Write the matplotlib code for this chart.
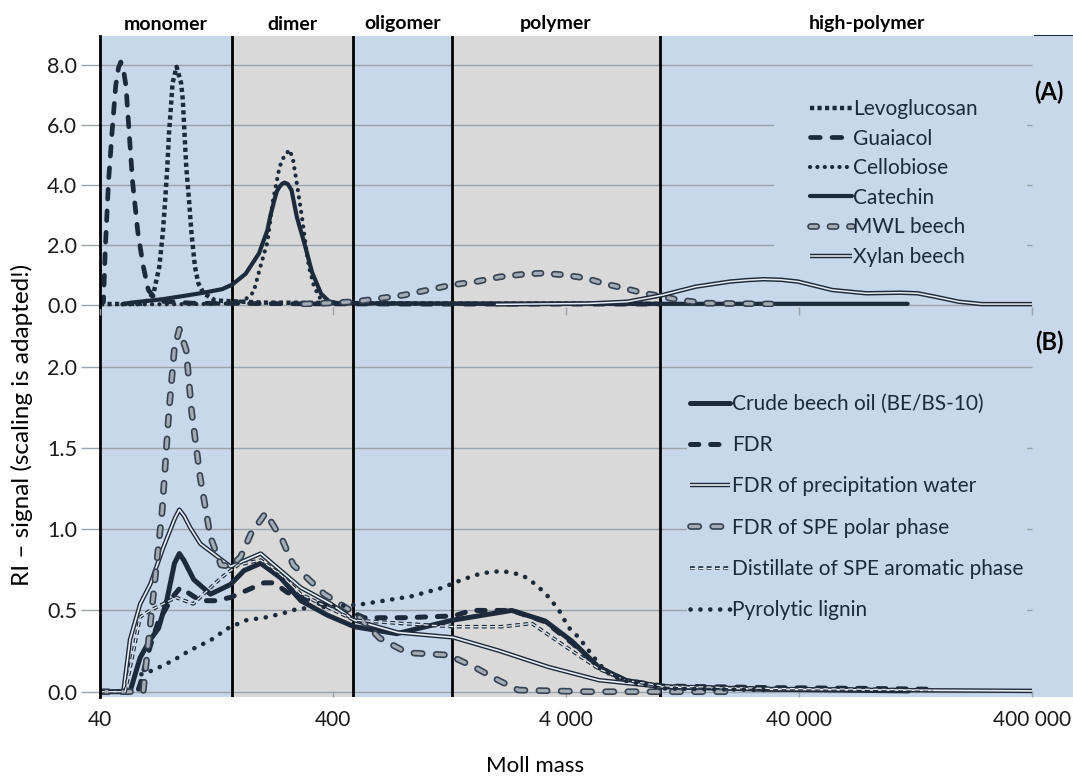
import matplotlib
matplotlib.use('Agg')
import matplotlib.pyplot as plt
from matplotlib.lines import Line2D
from matplotlib.patches import Rectangle
from matplotlib.ticker import FuncFormatter, NullLocator
from matplotlib.legend_handler import HandlerTuple
import matplotlib.transforms as mtransforms

plt.rcParams['font.family'] = ['Lato', 'DejaVu Sans']
plt.rcParams['lines.scale_dashes'] = False

# ---------------- data (molar mass, RI signal) ----------------
# Panel (A) reference substances
levo_m = [40, 60, 64, 67.9, 71.9, 74.4, 76.2, 77.8, 79.1, 81.0, 81.9, 85.3, 89.2, 90.7, 92.2, 93.8,
          96.4, 98.8, 102.2, 105.7, 111.3, 125, 200, 1000, 10000]
levo_v = [0.03, 0.04, 0.15, 0.39, 1.28, 2.39, 3.5, 4.61, 5.72, 6.83, 7.39, 7.94, 7.39, 6.83, 5.72, 4.61,
          3.5, 2.39, 1.28, 0.72, 0.39, 0.15, 0.08, 0.05, 0.04]

guai_m = [40, 41.4, 42.1, 43.5, 45.0, 46.7, 48.0, 49.1, 50.3, 51.7, 53.4, 55.2, 58.2, 61.3, 64.5, 68, 75,
          100, 300, 1000, 10000]
guai_v = [0.0, 0.1, 1.8, 4.1, 5.7, 7.3, 7.9, 8.1, 7.9, 7.3, 5.7, 4.1, 2.4, 1.3, 0.5, 0.28, 0.12,
          0.06, 0.04, 0.03, 0.03]

cello_m = [50, 100, 150, 167.5, 182.5, 195.5, 209.3, 220.1, 235.8, 248, 261.2, 270, 279.7, 294.2, 304.6,
           315.0, 331.7, 355.3, 400, 1000, 10000]
cello_v = [0.02, 0.03, 0.05, 0.17, 0.43, 1.3, 2.1, 3.4, 4.6, 5.0, 5.17, 4.8, 4.06, 2.94, 2.06,
           1.28, 0.61, 0.17, 0.06, 0.05, 0.03]

cat_m = [50, 54.7, 73.8, 92.9, 113.4, 133.9, 147.8, 168.7, 192.5, 209.3, 215, 225, 230, 235.8, 242,
         248.0, 256, 265.5, 279.7, 302.9, 324.9, 355.3, 384.7, 420.6, 1000, 10000, 117000]
cat_v = [0.03, 0.08, 0.19, 0.31, 0.42, 0.53, 0.68, 1.04, 1.72, 2.5, 2.95, 3.55, 3.8, 3.94, 4.04,
         4.08, 4.03, 3.83, 2.94, 2.0, 1.1, 0.38, 0.12, 0.06, 0.05, 0.04, 0.04]

mwl_m = [300, 498.9, 633.9, 804.4, 1022, 1297, 1648, 2090, 2654, 3153, 3992, 4890, 5786, 7086,
         8679, 10380, 12160, 15820, 33450]
mwl_v = [0.03, 0.11, 0.22, 0.33, 0.5, 0.67, 0.78, 0.94, 1.03, 1.06, 1.0, 0.89, 0.72, 0.56,
         0.39, 0.28, 0.17, 0.06, 0.03]

xyl_m = [2000, 5000, 7330, 10380, 14390, 20170, 24000, 28250, 33500, 39600, 55500, 77780, 109000, 129000,
         152700, 193800, 243600, 400000]
xyl_v = [0.02, 0.05, 0.11, 0.33, 0.61, 0.78, 0.83, 0.86, 0.84, 0.78, 0.5, 0.39, 0.41, 0.39,
         0.28, 0.11, 0.03, 0.03]

# Panel (B) samples
crude_m = [40, 53.8, 59.5, 65.7, 71.3, 77.6, 83.5, 87.6, 91.5, 101, 119.2, 145.4, 165.9, 195.8, 238.7,
           291.2, 379.6, 494, 751, 1303, 2341, 3257, 4245, 5534, 7206, 10380, 30000, 118000]
crude_v = [0, 0, 0.21, 0.32, 0.39, 0.57, 0.79, 0.85, 0.81, 0.69, 0.60, 0.66, 0.745, 0.79, 0.70,
           0.56, 0.47, 0.40, 0.357, 0.44, 0.50, 0.435, 0.31, 0.15, 0.07, 0.03, 0.015, 0.005]

fdr_m = [40, 58, 60.2, 63.6, 65.7, 71.1, 81.7, 88.4, 107.9, 125, 145.4, 202.2, 223.3, 255.2, 355.3,
         498.9, 544, 800, 1316, 1573, 2341, 3257, 4245, 5534, 7206, 10380, 30000, 80000, 150000]
fdr_v = [0, 0, 0.07, 0.21, 0.28, 0.43, 0.58, 0.64, 0.56, 0.56, 0.58, 0.67, 0.67, 0.61, 0.54,
         0.48, 0.455, 0.455, 0.466, 0.50, 0.50, 0.43, 0.30, 0.15, 0.07, 0.035, 0.025, 0.02, 0.015]

prec_m = [40, 50.4, 53.8, 59.5, 65.7, 74.9, 84, 87.6, 92, 97.5, 107.9, 145.4, 195.8, 238.7, 291.2,
          392.2, 494, 760, 1312, 2052, 3368, 5534, 10380, 30000, 100000, 400000]
prec_v = [0, 0, 0.32, 0.54, 0.66, 0.89, 1.07, 1.12, 1.08, 1.01, 0.91, 0.77, 0.85, 0.745, 0.64,
          0.54, 0.44, 0.364, 0.334, 0.253, 0.152, 0.071, 0.03, 0.015, 0.01, 0.005]

spe_m = [40, 61.3, 66.7, 73.9, 79.1, 83.3, 87.6, 93.8, 98.8, 107.6, 119.2, 132.1, 145.4, 160.6,
         177.4, 205.8, 243, 270, 367.3, 498.9, 633.9, 832, 1254, 1626, 2052, 2500, 5000, 10380, 20000]
spe_v = [0, 0, 0.5, 1.11, 1.73, 2.1, 2.23, 2.1, 1.73, 1.32, 0.95, 0.78, 0.77, 0.83,
         0.97, 1.10, 0.93, 0.78, 0.60, 0.48, 0.33, 0.24, 0.225, 0.15, 0.07, 0.01, 0.0, 0.0, 0.0]

dist_m = [40, 51.3, 55.7, 59.5, 65.7, 84.7, 100.5, 132.1, 156.6, 195.8, 238.7, 291.2, 494, 785,
          1329, 2119, 2854, 3961, 5534, 7206, 10380, 30000, 80000, 150000]
dist_v = [0, 0, 0.25, 0.46, 0.50, 0.58, 0.54, 0.70, 0.78, 0.81, 0.72, 0.60, 0.44, 0.42,
          0.40, 0.40, 0.42, 0.28, 0.14, 0.07, 0.035, 0.02, 0.015, 0.01]

pyr_m = [60.2, 67.9, 74.9, 82.8, 97.5, 119.2, 140.7, 168.7, 209.3, 255.2, 281.8, 519.4, 643.9, 867.9,
         1169, 1425, 1738, 2119, 2584, 2854, 3257, 3716, 4107, 4534, 5008, 5534, 6111, 6976, 10380, 30000]
pyr_v = [0.107, 0.133, 0.163, 0.194, 0.255, 0.316, 0.388, 0.439, 0.459, 0.49, 0.51, 0.536, 0.557, 0.587,
         0.638, 0.688, 0.729, 0.743, 0.719, 0.678, 0.607, 0.506, 0.395, 0.334, 0.253, 0.172, 0.111, 0.071, 0.02, 0.01]

band_edges = [40, 147, 488, 1296, 10120]
band_names = ['monomer', 'dimer', 'oligomer', 'polymer', 'high-polymer']
x_ticks = [40, 400, 4000, 40000, 400000]
yA_ticks = [0, 2, 4, 6, 8]
yB_ticks = [0, 0.5, 1.0, 1.5, 2.0]

# ---------------- styling ----------------
BLUE = '#c8d7ea'
GREY = '#d9d9d9'
GRID = '#9aa2ab'
DARK = '#1c2a3b'
LIGHT = '#e9eef5'
PILL = '#a3abb4'

W, H = 1073, 779
XMIN, XMAX = 40, 599800


def st_solid(lw):
    return [dict(color=DARK, lw=lw, solid_capstyle='round')]


def st_dash(lw, on, off):
    return [dict(color=DARK, lw=lw, ls=(0, (on, off)), dash_capstyle='round')]


def st_square(lw, on, off):
    return [dict(color=DARK, lw=lw, ls=(0, (on, off)), dash_capstyle='butt')]


def st_dots(lw, gap):
    return [dict(color=DARK, lw=lw, ls=(0, (0.1, gap)), dash_capstyle='round')]


def st_double(lw_out, lw_in):
    return [dict(color=DARK, lw=lw_out, solid_capstyle='butt'),
            dict(color=LIGHT, lw=lw_in, solid_capstyle='butt')]


def st_pill(lw_out, lw_in, on, off):
    return [dict(color='#354252', lw=lw_out, ls=(0, (on, off)), dash_capstyle='round'),
            dict(color=PILL, lw=lw_in, ls=(0, (on, off)), dash_capstyle='round')]


def st_ddash(lw_out, lw_in, on, off):
    return [dict(color=DARK, lw=lw_out, ls=(0, (on, off)), dash_capstyle='butt'),
            dict(color=LIGHT, lw=lw_in, ls=(0, (on, off)), dash_capstyle='butt')]


fig = plt.figure(figsize=(W / 100, H / 100), dpi=100)


def px_rect(l, t, r, b):
    return [l / W, 1 - b / H, (r - l) / W, (b - t) / H]


axA = fig.add_axes(px_rect(100, 36, 1073, 307))
axB = fig.add_axes(px_rect(100, 307, 1073, 697))
axA.set_zorder(3)
axB.set_zorder(2)

edges_full = band_edges + [XMAX]
colors = [BLUE, GREY, BLUE, GREY, BLUE]

fmt = FuncFormatter(lambda v, p: f"{int(round(v)):,}".replace(',', ' '))

for ax, yt, ylim in ((axA, yA_ticks, (-0.0667, 8.967)), (axB, yB_ticks, (-0.0326, 2.367))):
    ax.set_xscale('log')
    ax.set_xlim(XMIN, XMAX)
    ax.set_ylim(*ylim)
    ax.patch.set_visible(False)
    for i in range(5):
        ax.axvspan(edges_full[i], edges_full[i + 1], color=colors[i], lw=0, zorder=0)
    for e in band_edges[1:]:
        ax.axvline(e, color='black', lw=2.0, zorder=1.6)
    ax.hlines(yt, XMIN, 400000, color=GRID, lw=1.0, zorder=1)
    for s in ('top', 'right', 'bottom'):
        ax.spines[s].set_visible(False)
    ax.spines['left'].set_color('black')
    ax.spines['left'].set_linewidth(2.0)
    ax.spines['left'].set_zorder(4)
    ax.set_yticks(yt)
    ax.set_yticklabels([f"{v:.1f}" for v in yt])
    ax.tick_params(axis='y', length=14, width=1, color=GRID, pad=2.5, labelsize=15.5, labelcolor='#1a1a1a')
    ax.set_xticks(x_ticks)
    ax.xaxis.set_minor_locator(NullLocator())
    ax.xaxis.set_major_formatter(fmt)

axA.tick_params(axis='x', direction='out', length=6, width=1, color=GRID, labelbottom=False)
axB.tick_params(axis='x', direction='in', length=4, width=1, color=GRID, pad=9,
                labelsize=15, labelcolor='#1a1a1a')

# legend backgrounds (cover gridlines)
axA.add_patch(Rectangle((31200, 1.1), 380000 - 31200, 6.2, facecolor=BLUE, edgecolor='none', zorder=1.2))
axB.add_patch(Rectangle((13280, 0.3), 380000 - 13280, 1.6, facecolor=BLUE, edgecolor='none', zorder=1.2))

seriesA = [
    ('Levoglucosan', levo_m, levo_v, st_square(3.2, 3.0, 2.4)),
    ('Guaiacol', guai_m, guai_v, st_dash(3.4, 7, 8.5)),
    ('Cellobiose', cello_m, cello_v, st_dots(3.0, 5.2)),
    ('Catechin', cat_m, cat_v, st_solid(3.0)),
    ('MWL beech', mwl_m, mwl_v, st_pill(4.8, 2.4, 4.5, 9.5)),
    ('Xylan beech', xyl_m, xyl_v, st_double(3.2, 1.1)),
]
seriesB = [
    ('Crude beech oil (BE/BS-10)', crude_m, crude_v, st_solid(3.6)),
    ('FDR', fdr_m, fdr_v, st_dash(3.6, 6, 8.5)),
    ('FDR of precipitation water', prec_m, prec_v, st_double(3.2, 1.2)),
    ('FDR of SPE polar phase', spe_m, spe_v, st_pill(4.8, 2.4, 6, 10)),
    ('Distillate of SPE aromatic phase', dist_m, dist_v, st_ddash(2.6, 0.9, 3.5, 2.5)),
    ('Pyrolytic lignin', pyr_m, pyr_v, st_dots(3.3, 7)),
]


def draw(ax, series):
    handles, labels = [], []
    for k, (lab, xm, yv, layers) in enumerate(series):
        hs = []
        for j, kw in enumerate(layers):
            ax.plot(xm, yv, zorder=3 + k * 0.1 + j * 0.01, **kw)
            hs.append(Line2D([], [], **kw))
        handles.append(tuple(hs))
        labels.append(lab)
    return handles, labels


hA, lA = draw(axA, seriesA)
hB, lB = draw(axB, seriesB)

legA = axA.legend(hA, lA, handler_map={tuple: HandlerTuple(ndivide=1)}, loc='upper left',
                  bbox_to_anchor=(810 / W, 1 - 99 / H), bbox_transform=fig.transFigure,
                  frameon=False, fontsize=15, labelcolor=DARK, borderpad=0, borderaxespad=0,
                  handlelength=2.02, handletextpad=0.05, labelspacing=0.46)
legA.set_zorder(6)
legB = axB.legend(hB, lB, handler_map={tuple: HandlerTuple(ndivide=1)}, loc='upper left',
                  bbox_to_anchor=(690 / W, 1 - 394 / H), bbox_transform=fig.transFigure,
                  frameon=False, fontsize=15, labelcolor=DARK, borderpad=0, borderaxespad=0,
                  handlelength=1.92, handletextpad=0.1, labelspacing=1.02)
legB.set_zorder(6)

# band labels above the plot
trans = mtransforms.blended_transform_factory(axA.transData, fig.transFigure)
for i, name in enumerate(band_names):
    lo, hi = edges_full[i], edges_full[i + 1]
    xc = (lo * hi) ** 0.5
    axA.text(xc, 1 - 24 / H, name, transform=trans, ha='center', va='center',
             fontsize=14, fontweight='bold', color='black', clip_on=False)

fig.text(1049 / W, 1 - 92 / H, '(A)', ha='center', va='center', fontsize=17, fontweight='bold', color='black')
fig.text(1049 / W, 1 - 342 / H, '(B)', ha='center', va='center', fontsize=17, fontweight='bold', color='black')

fig.text(22 / W, 1 - 425 / H, 'RI – signal (scaling is adapted!)', rotation=90, ha='center', va='center',
         fontsize=17.5, color='black')
fig.text(535 / W, 1 - 766 / H, 'Moll mass', ha='center', va='center', fontsize=16, color='black')

fig.add_artist(Line2D([1035 / W, 1.0], [1 - 36 / H, 1 - 36 / H], color=DARK, lw=2.2))

fig.savefig('out.png', dpi=100)
